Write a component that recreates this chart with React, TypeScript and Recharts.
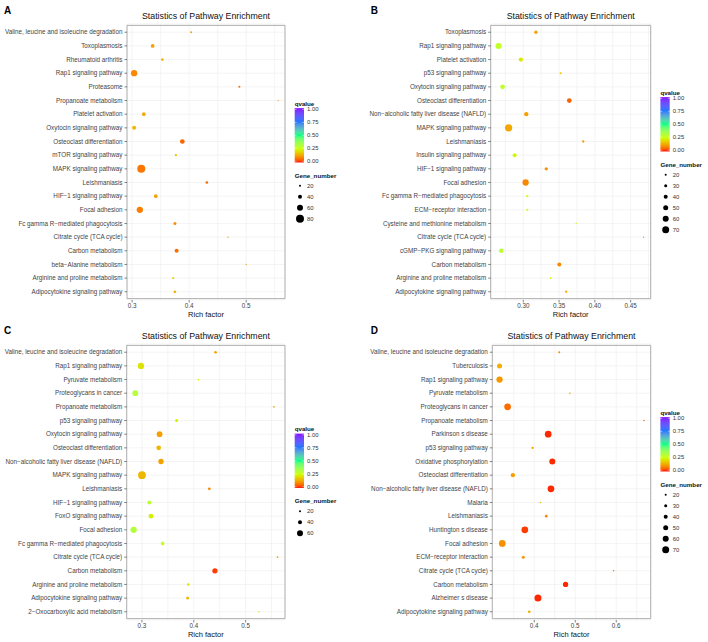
import React from 'react';
import { ScatterChart, Scatter, XAxis, YAxis, ZAxis, CartesianGrid, Cell, ReferenceArea } from 'recharts';

const FONT = '"Liberation Sans", Arial, Helvetica, sans-serif';

// ---------- Panel A ----------
const pathwaysA = [
  'Valine, leucine and isoleucine degradation', 'Toxoplasmosis', 'Rheumatoid arthritis', 'Rap1 signaling pathway',
  'Proteasome', 'Propanoate metabolism', 'Platelet activation', 'Oxytocin signaling pathway',
  'Osteoclast differentiation', 'mTOR signaling pathway', 'MAPK signaling pathway', 'Leishmaniasis',
  'HIF\u22121 signaling pathway', 'Focal adhesion', 'Fc gamma R\u2212mediated phagocytosis', 'Citrate cycle (TCA cycle)',
  'Carbon metabolism', 'beta\u2212Alanine metabolism', 'Arginine and proline metabolism', 'Adipocytokine signaling pathway',
];
const richA = [0.4035, 0.336, 0.353, 0.3035, 0.488, 0.556, 0.3205, 0.3035, 0.388, 0.3767, 0.316, 0.431, 0.3415, 0.3135, 0.375, 0.468, 0.378, 0.5, 0.372, 0.375];
const qvalueA = [0.13, 0.12, 0.15, 0.09, 0.06, 0.1, 0.13, 0.15, 0.05, 0.17, 0.07, 0.06, 0.12, 0.08, 0.1, 0.12, 0.06, 0.13, 0.2, 0.14];
const genesA = [20, 37, 27, 63, 20, 13, 37, 40, 47, 23, 80, 27, 37, 63, 30, 13, 40, 13, 23, 27];
const ticksA = [0.3, 0.4, 0.5];
const minorA = [0.35, 0.45, 0.55];
const sizeBreaksA = [20, 40, 60, 80];

// ---------- Panel B ----------
const pathwaysB = [
  'Toxoplasmosis', 'Rap1 signaling pathway', 'Platelet activation', 'p53 signaling pathway',
  'Oxytocin signaling pathway', 'Osteoclast differentiation', 'Non\u2212alcoholic fatty liver disease (NAFLD)', 'MAPK signaling pathway',
  'Leishmaniasis', 'Insulin signaling pathway', 'HIF\u22121 signaling pathway', 'Focal adhesion',
  'Fc gamma R\u2212mediated phagocytosis', 'ECM\u2212receptor interaction', 'Cysteine and methionine metabolism', 'Citrate cycle (TCA cycle)',
  'cGMP\u2212PKG signaling pathway', 'Carbon metabolism', 'Arginine and proline metabolism', 'Adipocytokine signaling pathway',
];
const richB = [0.3177, 0.2655, 0.2967, 0.3522, 0.2711, 0.3643, 0.3042, 0.2795, 0.3838, 0.2879, 0.3321, 0.3033, 0.3056, 0.3056, 0.374, 0.468, 0.2693, 0.3503, 0.3382, 0.36];
const qvalueB = [0.12, 0.28, 0.22, 0.17, 0.28, 0.05, 0.12, 0.13, 0.11, 0.24, 0.1, 0.09, 0.25, 0.27, 0.28, 0.1, 0.29, 0.09, 0.22, 0.14];
const genesB = [33, 60, 43, 20, 47, 47, 43, 73, 23, 40, 33, 63, 23, 23, 15, 13, 45, 40, 17, 23];
const ticksB = [0.3, 0.35, 0.4, 0.45];
const minorB = [0.275, 0.325, 0.375, 0.425, 0.475];
const sizeBreaksB = [20, 30, 40, 50, 60, 70];

// ---------- Panel C ----------
const pathwaysC = [
  'Valine, leucine and isoleucine degradation', 'Rap1 signaling pathway', 'Pyruvate metabolism', 'Proteoglycans in cancer',
  'Propanoate metabolism', 'p53 signaling pathway', 'Oxytocin signaling pathway', 'Osteoclast differentiation',
  'Non\u2212alcoholic fatty liver disease (NAFLD)', 'MAPK signaling pathway', 'Leishmaniasis', 'HIF\u22121 signaling pathway',
  'FoxO signaling pathway', 'Focal adhesion', 'Fc gamma R\u2212mediated phagocytosis', 'Citrate cycle (TCA cycle)',
  'Carbon metabolism', 'Arginine and proline metabolism', 'Adipocytokine signaling pathway', '2\u2212Oxocarboxylic acid metabolism',
];
const richC = [0.442, 0.298, 0.409, 0.287, 0.5547, 0.3669, 0.334, 0.3322, 0.3367, 0.3, 0.43, 0.3141, 0.3174, 0.2839, 0.3399, 0.5617, 0.4408, 0.3894, 0.3881, 0.5257];
const qvalueC = [0.12, 0.21, 0.24, 0.3, 0.13, 0.23, 0.12, 0.15, 0.12, 0.15, 0.09, 0.29, 0.23, 0.31, 0.27, 0.13, 0.02, 0.21, 0.15, 0.22];
const genesC = [27, 63, 17, 57, 17, 30, 57, 47, 53, 78, 27, 40, 47, 63, 37, 17, 53, 25, 30, 14];
const ticksC = [0.3, 0.4, 0.5];
const minorC = [0.35, 0.45, 0.55];
const sizeBreaksC = [20, 40, 60];

// ---------- Panel D ----------
const pathwaysD = [
  'Valine, leucine and isoleucine degradation', 'Tuberculosis', 'Rap1 signaling pathway', 'Pyruvate metabolism',
  'Proteoglycans in cancer', 'Propanoate metabolism', 'Parkinson s disease', 'p53 signaling pathway',
  'Oxidative phosphorylation', 'Osteoclast differentiation', 'Non\u2212alcoholic fatty liver disease (NAFLD)', 'Malaria',
  'Leishmaniasis', 'Huntington s disease', 'Focal adhesion', 'ECM\u2212receptor interaction',
  'Citrate cycle (TCA cycle)', 'Carbon metabolism', 'Alzheimer s disease', 'Adipocytokine signaling pathway',
];
const richD = [0.461, 0.3154, 0.3154, 0.487, 0.335, 0.6675, 0.434, 0.396, 0.444, 0.348, 0.4407, 0.4154, 0.4293, 0.377, 0.322, 0.3732, 0.5935, 0.4764, 0.409, 0.3878];
const qvalueD = [0.09, 0.14, 0.11, 0.12, 0.06, 0.05, 0.01, 0.14, 0.01, 0.12, 0.01, 0.16, 0.09, 0.02, 0.1, 0.11, 0.06, 0.01, 0.01, 0.14];
const genesD = [20, 50, 63, 15, 67, 14, 67, 24, 60, 43, 67, 15, 27, 67, 67, 30, 14, 53, 70, 27];
const ticksD = [0.4, 0.5, 0.6];
const minorD = [0.35, 0.45, 0.55, 0.65];
const sizeBreaksD = [20, 30, 40, 50, 60, 70];

const qBreaks = [1, 0.75, 0.5, 0.25, 0];

// ---------- colour scale (Lab interpolation like ggplot gradientn) ----------
const COLOR_STOPS = ['#FF0000', '#CCFF00', '#00FF88', '#2277FF', '#8800FF'];
const WHITE = [0.95047, 1, 1.08883];
function toLin(c: number) { return c <= 0.04045 ? c / 12.92 : Math.pow((c + 0.055) / 1.055, 2.4); }
function fromLin(c: number) { const v = c <= 0.0031308 ? 12.92 * c : 1.055 * Math.pow(c, 1 / 2.4) - 0.055; return Math.max(0, Math.min(1, v)); }
function hexToLab(hex: string) {
  const r = toLin(parseInt(hex.slice(1, 3), 16) / 255);
  const g = toLin(parseInt(hex.slice(3, 5), 16) / 255);
  const b = toLin(parseInt(hex.slice(5, 7), 16) / 255);
  const X = (0.4124 * r + 0.3576 * g + 0.1805 * b) / WHITE[0];
  const Y = (0.2126 * r + 0.7152 * g + 0.0722 * b) / WHITE[1];
  const Z = (0.0193 * r + 0.1192 * g + 0.9505 * b) / WHITE[2];
  const f = (t: number) => (t > 0.008856 ? Math.cbrt(t) : 7.787 * t + 16 / 116);
  const fx = f(X), fy = f(Y), fz = f(Z);
  return [116 * fy - 16, 500 * (fx - fy), 200 * (fy - fz)];
}
function labToHex(L: number, a: number, b: number) {
  const fy = (L + 16) / 116, fx = fy + a / 500, fz = fy - b / 200;
  const inv = (t: number) => (t * t * t > 0.008856 ? t * t * t : (t - 16 / 116) / 7.787);
  const X = inv(fx) * WHITE[0], Y = inv(fy) * WHITE[1], Z = inv(fz) * WHITE[2];
  const r = fromLin(3.2406 * X - 1.5372 * Y - 0.4986 * Z);
  const g = fromLin(-0.9689 * X + 1.8758 * Y + 0.0415 * Z);
  const bb = fromLin(0.0557 * X - 0.204 * Y + 1.057 * Z);
  const h = (v: number) => Math.round(v * 255).toString(16).padStart(2, '0');
  return '#' + h(r) + h(g) + h(bb);
}
const LAB_STOPS = COLOR_STOPS.map(hexToLab);
function qColor(q: number) {
  const t = Math.min(Math.max(q, 0), 1) * (LAB_STOPS.length - 1);
  const i = Math.min(Math.floor(t), LAB_STOPS.length - 2);
  const f = t - i;
  const A = LAB_STOPS[i], B = LAB_STOPS[i + 1];
  return labToHex(A[0] + (B[0] - A[0]) * f, A[1] + (B[1] - A[1]) * f, A[2] + (B[2] - A[2]) * f);
}

// gene number -> symbol area (diameter proportional to gene number)
const Z_DOMAIN = [0, 10000];
const Z_RANGE = [0, 78.54];
const legendRadius = (g: number) => Math.sqrt(((g * g) / Z_DOMAIN[1]) * Z_RANGE[1] / Math.PI);

const W = 354;
const H = 321;
const PLOT_TOP = 24;
const PLOT_BOTTOM = 300;

function XTick(props: any) {
  const { x, y, payload, majors, fmt } = props;
  const isMajor = majors.some((m: number) => Math.abs(m - payload.value) < 1e-9);
  if (!isMajor) return <g />;
  return (
    <g>
      <line x1={x} x2={x} y1={y} y2={y + 2.5} stroke="#333" strokeWidth={0.6} />
      <text x={x} y={y + 8.4} textAnchor="middle" fontSize={6.3} fill="#444" fontFamily={FONT}>{fmt(payload.value)}</text>
    </g>
  );
}

function YTick(props: any) {
  const { x, y, payload } = props;
  return (
    <text x={x} y={y + 2.2} textAnchor="end" fontSize={6.3} fill="#444" fontFamily={FONT}>{payload.value}</text>
  );
}

type PanelCfg = {
  letter: string; letterX: number; ox: number; oy: number;
  names: string[]; rich: number[]; q: number[]; genes: number[];
  domain: [number, number]; majors: number[]; minors: number[]; digits: number;
  plotLeft: number; plotRight: number; breaks: number[];
};

function Panel({ cfg }: { cfg: PanelCfg }) {
  const { letter, letterX, ox, oy, names, rich, q, genes, domain, majors, minors, digits, plotLeft, plotRight, breaks } = cfg;
  const data = names.map((name, i) => ({ name, rich: rich[i], q: q[i], genes: genes[i] }));
  const allTicks = [...majors, ...minors].sort((a, b) => a - b);
  const fmt = (v: number) => v.toFixed(digits);
  const cx = (plotLeft + plotRight) / 2;

  const lx = plotRight + 9.7;
  const n = breaks.length;
  const titleY = 161 - (82.3 + 11 * (n - 1)) / 2;
  const barTop = titleY + 4.8;
  const barH = 54.3;
  const barW = 9.3;
  const gradId = 'qgrad' + letter;
  const gradStops = Array.from({ length: 41 }, (_, i) => i / 40);

  return (
    <div style={{ position: 'absolute', left: ox, top: oy, width: W, height: H }}>
      <ScatterChart width={W} height={H} margin={{ top: PLOT_TOP, right: W - plotRight, bottom: 0, left: 0 }} style={{ fontFamily: FONT }}>
        <CartesianGrid stroke="#EDEDED" strokeWidth={0.6} />
        <XAxis
          type="number" dataKey="rich" domain={domain} ticks={allTicks} allowDataOverflow interval={0}
          tick={<XTick majors={majors} fmt={fmt} />} tickLine={false} axisLine={false} tickSize={0} tickMargin={0}
          height={H - PLOT_BOTTOM}
          label={{ value: 'Rich factor', position: 'insideBottom', offset: 4.3, fontSize: 7.5, fill: '#111', fontFamily: FONT }}
        />
        <YAxis
          type="category" dataKey="name" width={plotLeft} reversed interval={0}
          tickSize={2.5} tickMargin={2} tickLine={{ stroke: '#333', strokeWidth: 0.6 }} axisLine={false}
          tick={<YTick />} padding={{ top: 1.4, bottom: 1.4 }}
        />
        <ZAxis type="number" dataKey={(d: any) => d.genes * d.genes} domain={Z_DOMAIN} range={Z_RANGE} />
        <ReferenceArea x1={domain[0]} x2={domain[1]} fill="none" stroke="#A8A8A8" strokeWidth={0.9} ifOverflow="visible" />
        <Scatter data={data} isAnimationActive={false}>
          {data.map((d, i) => (
            <Cell key={i} fill={qColor(d.q)} />
          ))}
        </Scatter>
      </ScatterChart>
      <svg width={W} height={H} style={{ position: 'absolute', left: 0, top: 0, pointerEvents: 'none' }} fontFamily={FONT}>
        <defs>
          <linearGradient id={gradId} x1="0" y1="1" x2="0" y2="0">
            {gradStops.map((s) => (
              <stop key={s} offset={s} stopColor={qColor(s)} />
            ))}
          </linearGradient>
        </defs>
        <text x={letterX} y={13.6} fontSize={10} fontWeight="bold" fill="#000">{letter}</text>
        <text x={cx} y={19.2} fontSize={8.8} textAnchor="middle" fill="#111">Statistics of Pathway Enrichment</text>
        <text x={lx} y={titleY + 2.2} fontSize={6.2} fontWeight="bold" fill="#111">qvalue</text>
        <rect x={lx} y={barTop} width={barW} height={barH} fill={`url(#${gradId})`} />
        {qBreaks.map((v) => {
          const y = barTop + 1.2 + (1 - v) * (barH - 2.4);
          return (
            <g key={v}>
              <line x1={lx} x2={lx + 1.8} y1={y} y2={y} stroke="#fff" strokeWidth={0.5} />
              <line x1={lx + barW - 1.8} x2={lx + barW} y1={y} y2={y} stroke="#fff" strokeWidth={0.5} />
              <text x={lx + barW + 3} y={y + 2.1} fontSize={5.9} fill="#333">{v.toFixed(2)}</text>
            </g>
          );
        })}
        <text x={lx} y={titleY + 74.2} fontSize={6.2} fontWeight="bold" fill="#111">Gene_number</text>
        {breaks.map((g, i) => {
          const y = titleY + 82.3 + 11 * i;
          return (
            <g key={g}>
              <circle cx={lx + 5.3} cy={y} r={legendRadius(g)} fill="#000" />
              <text x={lx + 12.3} y={y + 2.1} fontSize={5.9} fill="#333">{g}</text>
            </g>
          );
        })}
      </svg>
    </div>
  );
}

const panels: PanelCfg[] = [
  { letter: 'A', letterX: 4, ox: 0, oy: 0, names: pathwaysA, rich: richA, q: qvalueA, genes: genesA, domain: [0.291, 0.568], majors: ticksA, minors: minorA, digits: 1, plotLeft: 127, plotRight: 285, breaks: sizeBreaksA },
  { letter: 'B', letterX: 16.7, ox: 354, oy: 0, names: pathwaysB, rich: richB, q: qvalueB, genes: genesB, domain: [0.2545, 0.478], majors: ticksB, minors: minorB, digits: 2, plotLeft: 136.7, plotRight: 296.7, breaks: sizeBreaksB },
  { letter: 'C', letterX: 4, ox: 0, oy: 320, names: pathwaysC, rich: richC, q: qvalueC, genes: genesC, domain: [0.2705, 0.576], majors: ticksC, minors: minorC, digits: 1, plotLeft: 126.7, plotRight: 285, breaks: sizeBreaksC },
  { letter: 'D', letterX: 16.7, ox: 354, oy: 320, names: pathwaysD, rich: richD, q: qvalueD, genes: genesD, domain: [0.2977, 0.684], majors: ticksD, minors: minorD, digits: 1, plotLeft: 138.3, plotRight: 296.7, breaks: sizeBreaksD },
];

export default function App() {
  return (
    <div style={{ position: 'absolute', left: 0, top: 0, width: 708, height: 642, background: '#fff', overflow: 'hidden' }}>
      {panels.map((p) => (
        <Panel key={p.letter} cfg={p} />
      ))}
    </div>
  );
}
